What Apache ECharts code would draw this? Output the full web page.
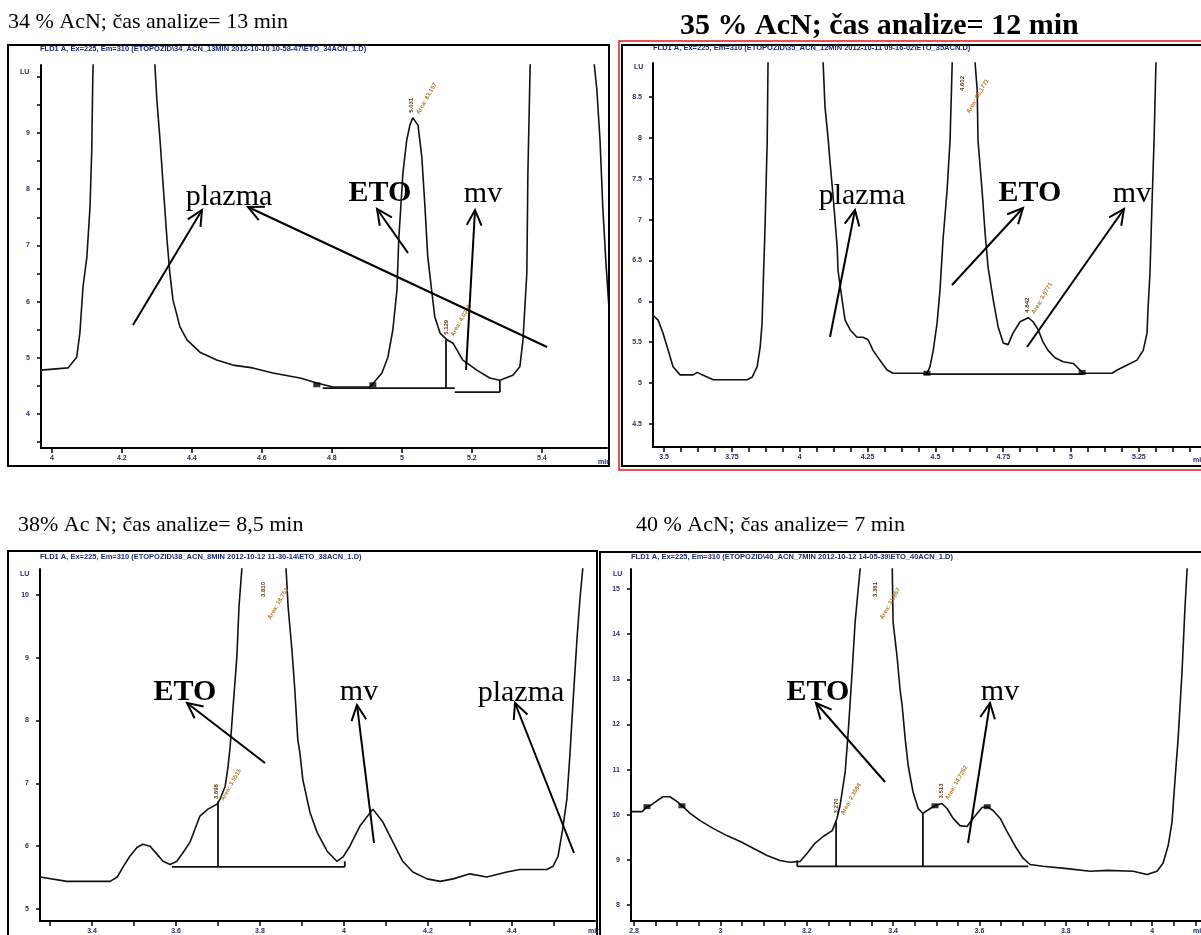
<!DOCTYPE html>
<html>
<head>
<meta charset="utf-8">
<script src="https://cdn.jsdelivr.net/npm/echarts@6/dist/echarts.min.js"></script>
<style>
html,body{margin:0;padding:0;background:#fff;}
#c{width:1201px;height:935px;}
</style>
</head>
<body>
<div id="c"></div>
<script>
// ---- chromatogram traces: retention time (min) and fluorescence response (LU) ----
const run34Time = [3.969,4.046,4.071,4.080,4.089,4.100,4.109,4.114,4.117,4.21,4.294,4.300,4.309,4.317,4.329,4.337,4.346,4.366,4.386,4.423,4.471,4.517,4.574,4.631,4.709,4.757,4.803,4.909,4.943,4.960,4.974,4.986,4.991,5.003,5.014,5.023,5.031,5.046,5.057,5.066,5.074,5.086,5.094,5.109,5.129,5.146,5.174,5.214,5.251,5.280,5.317,5.337,5.346,5.357,5.360,5.366,5.457,5.549,5.557,5.566,5.574,5.583,5.594];
const run34Signal = [4.78,4.82,5.01,5.44,6.26,6.79,7.68,8.70,10.0,30,10.26,9.59,8.88,8.16,7.10,6.51,6.03,5.55,5.32,5.10,4.96,4.87,4.82,4.73,4.64,4.55,4.48,4.48,4.73,5.01,5.49,6.21,7.10,8.29,8.88,9.14,9.27,9.14,8.57,7.68,6.79,6.15,5.73,5.44,5.32,5.26,4.96,4.78,4.64,4.60,4.69,4.84,5.32,6.51,8.29,10.07,30,10.26,9.77,8.88,7.68,6.69,5.67];

const run35Time = [3.459,3.478,3.496,3.515,3.533,3.559,3.607,3.622,3.640,3.681,3.806,3.824,3.843,3.854,3.861,3.865,3.872,3.880,3.883,3.983,4.086,4.093,4.104,4.112,4.123,4.138,4.141,4.156,4.167,4.186,4.211,4.233,4.252,4.270,4.304,4.322,4.344,4.407,4.469,4.480,4.492,4.506,4.517,4.528,4.543,4.554,4.562,4.602,4.646,4.654,4.657,4.672,4.683,4.694,4.713,4.731,4.750,4.768,4.786,4.812,4.842,4.860,4.879,4.897,4.915,4.941,4.971,5.008,5.033,5.044,5.107,5.151,5.170,5.207,5.243,5.266,5.280,5.284,5.291,5.298,5.306,5.313,5.40];
const run35Signal = [5.83,5.77,5.61,5.40,5.20,5.10,5.10,5.13,5.10,5.04,5.04,5.07,5.20,5.44,5.73,6.18,6.91,7.97,8.93,20,8.93,8.38,8.01,7.69,7.28,6.66,6.38,6.02,5.77,5.65,5.56,5.56,5.53,5.40,5.24,5.16,5.12,5.12,5.12,5.20,5.40,5.73,6.14,6.75,7.36,7.97,8.93,10.5,8.93,8.59,7.97,7.36,6.84,6.42,6.02,5.69,5.49,5.47,5.61,5.75,5.80,5.75,5.65,5.50,5.40,5.31,5.26,5.24,5.16,5.12,5.12,5.12,5.16,5.22,5.28,5.40,5.61,5.93,6.35,7.15,7.97,8.93,20];

const run38Time = [3.276,3.340,3.443,3.460,3.474,3.490,3.507,3.521,3.538,3.555,3.569,3.586,3.602,3.617,3.633,3.645,3.657,3.676,3.698,3.705,3.717,3.724,3.729,3.736,3.745,3.750,3.757,3.810,3.862,3.867,3.876,3.883,3.890,3.895,3.902,3.919,3.936,3.960,3.983,3.998,4.014,4.038,4.069,4.093,4.117,4.140,4.164,4.198,4.229,4.260,4.300,4.340,4.388,4.419,4.483,4.498,4.510,4.521,4.531,4.538,4.545,4.555,4.562,4.569,4.62];
const run38Signal = [5.51,5.44,5.44,5.51,5.67,5.84,5.98,6.03,6.00,5.87,5.76,5.71,5.76,5.90,6.06,6.27,6.48,6.59,6.67,6.75,6.95,7.27,7.59,8.22,9.02,9.81,10.43,25,10.43,9.81,9.13,8.49,7.70,7.49,7.06,6.54,6.22,5.92,5.76,5.83,6.00,6.32,6.59,6.38,6.06,5.76,5.59,5.48,5.44,5.48,5.56,5.51,5.59,5.63,5.63,5.68,5.84,6.27,6.75,7.43,8.22,9.29,9.92,10.43,25];

const run40Time = [2.793,2.819,2.830,2.837,2.853,2.867,2.883,2.900,2.911,2.930,2.953,2.983,3.015,3.046,3.076,3.108,3.138,3.161,3.185,3.201,3.219,3.238,3.259,3.270,3.277,3.289,3.296,3.305,3.312,3.319,3.324,3.361,3.398,3.400,3.409,3.416,3.421,3.428,3.435,3.446,3.458,3.469,3.486,3.497,3.513,3.525,3.539,3.555,3.571,3.585,3.606,3.618,3.632,3.648,3.664,3.683,3.701,3.717,3.747,3.803,3.856,3.896,3.956,3.988,4.011,4.025,4.037,4.046,4.053,4.060,4.069,4.076,4.081,4.15];
const run40Signal = [10.07,10.07,10.18,10.20,10.31,10.40,10.40,10.29,10.20,10.03,9.87,9.70,9.54,9.41,9.26,9.10,8.99,8.95,8.97,9.15,9.37,9.52,9.65,9.92,10.20,10.95,11.83,13.15,14.26,14.98,15.47,40,15.47,14.26,13.51,12.78,12.41,11.68,11.08,10.51,10.14,10.03,10.14,10.20,10.25,10.14,9.92,9.76,9.74,9.92,10.16,10.18,10.09,9.92,9.63,9.30,9.04,8.90,8.86,8.81,8.75,8.77,8.75,8.68,8.75,8.93,9.32,9.85,10.80,11.68,13.15,14.61,15.47,40];

// ---- integration baselines and peak drop lines [[t1,y1],[t2,y2]] ----
const base34 = [[[4.774,4.46],[5.151,4.46]], [[5.126,4.46],[5.126,5.32]], [[5.151,4.39],[5.280,4.39]], [[5.280,4.39],[5.280,4.60]]];
const base35 = [[[4.455,5.11],[5.044,5.11]]];
const base38 = [[[3.590,5.67],[4.002,5.67]], [[3.700,5.67],[3.700,6.71]], [[4.002,5.67],[4.002,5.76]]];
const base40 = [[[3.178,8.86],[3.713,8.86]], [[3.268,8.86],[3.268,9.85]], [[3.469,8.86],[3.469,10.03]], [[3.178,8.86],[3.178,8.99]]];

// ---- integration event markers ----
const marks34 = [[4.757,4.52],[4.917,4.52]];
const marks35 = [[4.469,5.12],[5.041,5.13]];
const marks38 = [];
const marks40 = [[2.830,10.18],[2.911,10.20],[3.497,10.20],[3.618,10.18]];

// ---- integrated peaks: retention time, apex response, area ----
const peaks34 = [{rt:5.031, y:9.27, area:'83.157'}, {rt:5.129, y:5.32, area:'4.0369'}];
const peaks35 = [{rt:4.602, y:10.5, area:'60.1771'}, {rt:4.842, y:5.80, area:'3.9771'}];
const peaks38 = [{rt:3.810, y:25, area:'18.751'}, {rt:3.698, y:6.67, area:'3.5515'}];
const peaks40 = [{rt:3.361, y:40, area:'31.867'}, {rt:3.270, y:9.92, area:'2.3594'}, {rt:3.513, y:10.25, area:'14.7262'}];

// ---- axis ticks ----
const xTicks34 = [4, 4.2, 4.4, 4.6, 4.8, 5, 5.2, 5.4];
const yTicks34 = [4, 5, 6, 7, 8, 9];
const xTicks35 = [3.5, 3.75, 4, 4.25, 4.5, 4.75, 5, 5.25];
const yTicks35 = [4.5, 5, 5.5, 6, 6.5, 7, 7.5, 8, 8.5];
const xTicks38 = [3.4, 3.6, 3.8, 4, 4.2, 4.4];
const yTicks38 = [5, 6, 7, 8, 9, 10];
const xTicks40 = [2.8, 3, 3.2, 3.4, 3.6, 3.8, 4];
const yTicks40 = [8, 9, 10, 11, 12, 13, 14, 15];

// ---- panel titles and detector headers ----
const titles = ['34 % AcN; čas analize= 13 min', '35 % AcN; čas analize= 12 min', '38% Ac N; čas analize= 8,5 min', '40 % AcN; čas analize= 7 min'];
const headers = [
  'FLD1 A, Ex=225, Em=310 (ETOPOZID\\34_ACN_13MIN 2012-10-10 10-58-47\\ETO_34ACN_1.D)',
  'FLD1 A, Ex=225, Em=310 (ETOPOZID\\35_ACN_12MIN 2012-10-11 09-16-02\\ETO_35ACN.D)',
  'FLD1 A, Ex=225, Em=310 (ETOPOZID\\38_ACN_8MIN 2012-10-12 11-30-14\\ETO_38ACN_1.D)',
  'FLD1 A, Ex=225, Em=310 (ETOPOZID\\40_ACN_7MIN 2012-10-12 14-05-39\\ETO_40ACN_1.D)'
];

function zip(t, s) { return t.map((x, i) => [x, s[i]]); }
function withMinor(ticks, n, lo, hi) {
  const step = ticks[1] - ticks[0];
  const out = [];
  for (let v = ticks[0] - step; v <= ticks[ticks.length - 1] + step + 1e-9; v += step) {
    for (let k = 0; k < n; k++) {
      const m = v + step * k / n;
      if (m >= lo - 1e-9 && m <= hi + 1e-9) out.push(+m.toFixed(5));
    }
  }
  return out;
}

const panels = [
  {grid:{left:41, top:65, width:566, height:383}, x:[3.969,5.586], y:[3.395,10.21],
   time:run34Time, signal:run34Signal, xTicks:xTicks34, yTicks:yTicks34, xMinor:1, yMinor:2,
   base:base34, marks:marks34, peaks:peaks34},
  {grid:{left:653, top:63, width:548, height:384}, x:[3.459,5.479], y:[4.217,8.917],
   time:run35Time, signal:run35Signal, xTicks:xTicks35, yTicks:yTicks35, xMinor:4, yMinor:1,
   base:base35, marks:marks35, peaks:peaks35},
  {grid:{left:40, top:569, width:555, height:353}, x:[3.276,4.598], y:[4.81,10.41],
   time:run38Time, signal:run38Signal, xTicks:xTicks38, yTicks:yTicks38, xMinor:2, yMinor:1,
   base:base38, marks:marks38, peaks:peaks38},
  {grid:{left:631, top:569, width:570, height:354}, x:[2.793,4.113], y:[7.65,15.44],
   time:run40Time, signal:run40Signal, xTicks:xTicks40, yTicks:yTicks40, xMinor:4, yMinor:1,
   base:base40, marks:marks40, peaks:peaks40}
];

const tickLabel = {fontSize:7, fontWeight:'bold', color:'#2a3060', fontFamily:'Liberation Sans'};

const option = {animation:false, grid:[], xAxis:[], yAxis:[], series:[]};
panels.forEach((p, i) => {
  option.grid.push(Object.assign({containLabel:false}, p.grid));
  option.xAxis.push({
    type:'value', gridIndex:i, min:p.x[0], max:p.x[1],
    axisLine:{onZero:false, lineStyle:{color:'#000', width:2}},
    axisTick:{customValues:withMinor(p.xTicks, p.xMinor, p.x[0], p.x[1]), length:5, lineStyle:{color:'#000', width:1.5}},
    axisLabel:Object.assign({customValues:p.xTicks, margin:7}, tickLabel),
    splitLine:{show:false}
  });
  option.yAxis.push({
    type:'value', gridIndex:i, min:p.y[0], max:p.y[1],
    axisLine:{onZero:false, lineStyle:{color:'#000', width:2}},
    axisTick:{customValues:withMinor(p.yTicks, p.yMinor, p.y[0], p.y[1]), length:4, lineStyle:{color:'#000', width:1.5}},
    axisLabel:Object.assign({customValues:p.yTicks, margin:11}, tickLabel),
    splitLine:{show:false}
  });
  option.series.push({
    type:'line', xAxisIndex:i, yAxisIndex:i, data:zip(p.time, p.signal),
    symbol:'none', clip:true, silent:true, z:3,
    lineStyle:{color:'#111', width:1.6}
  });
  p.base.forEach(seg => option.series.push({
    type:'line', xAxisIndex:i, yAxisIndex:i, data:seg, symbol:'none', clip:true, silent:true, z:4,
    lineStyle:{color:'#111', width:1.8}
  }));
  if (p.marks.length) option.series.push({
    type:'scatter', xAxisIndex:i, yAxisIndex:i, data:p.marks, symbol:'rect', symbolSize:[7,5],
    itemStyle:{color:'#000'}, silent:true, z:5
  });
});

const chart = echarts.init(document.getElementById('c'), null, {renderer:'canvas', width:1201, height:935});
chart.setOption(option);

// ---- overlay: frames, titles, annotation arrows and peak labels ----
const serif = '"Liberation Serif", "Times New Roman", serif';
const g = [];
function rect(x, y, w, h, stroke, lw) {
  g.push({type:'rect', shape:{x, y, width:w, height:h}, style:{fill:null, stroke, lineWidth:lw}, z:10});
}
function text(str, x, y, font, opts) {
  g.push({type:'text', x, y, z:11, rotation:(opts && opts.rot) || 0,
    style:Object.assign({text:str, font, fill:'#000', align:'left', verticalAlign:'middle'}, (opts && opts.style) || {})});
}
function arrow(x1, y1, x2, y2) {
  const a = Math.atan2(y2 - y1, x2 - x1), L = 17, w = 0.45;
  const h1 = [x2 - L * Math.cos(a - w), y2 - L * Math.sin(a - w)];
  const h2 = [x2 - L * Math.cos(a + w), y2 - L * Math.sin(a + w)];
  g.push({type:'line', shape:{x1, y1, x2, y2}, style:{stroke:'#000', lineWidth:2}, z:12});
  g.push({type:'polyline', shape:{points:[h1, [x2, y2], h2]}, style:{stroke:'#000', lineWidth:2, fill:null}, z:12});
}

// panel frames
rect(8, 45, 601, 421, '#000', 2);
rect(619, 41, 590, 429, '#e01818', 1.5);
rect(622, 45, 590, 421, '#000', 2);
rect(8, 551, 589, 400, '#000', 2);
rect(600, 552, 610, 400, '#000', 2);

// titles
text(titles[0], 8, 22, '22px ' + serif);
text(titles[1], 680, 26, 'bold 30px ' + serif);
text(titles[2], 18, 525, '22px ' + serif);
text(titles[3], 636, 525, '22px ' + serif);

// detector headers, axis units
const hdrStyle = {style:{fill:'#1c2a70'}};
[[40, 49], [653, 48], [40, 557], [631, 557]].forEach((pos, i) => text(headers[i], pos[0], pos[1], 'bold 7.5px "Liberation Sans"', hdrStyle));
[[20, 72], [634, 67], [20, 574], [613, 574]].forEach(pos => text('LU', pos[0], pos[1], 'bold 7px "Liberation Sans"', hdrStyle));
[[598, 462], [1193, 460], [588, 931], [1193, 931]].forEach(pos => text('min', pos[0], pos[1], 'bold 7px "Liberation Sans"', hdrStyle));

// annotations
const lab = '30px ' + serif, labB = 'bold 30px ' + serif;
const ctr = {style:{align:'center'}};
text('plazma', 229, 197, lab, ctr); text('ETO', 380, 193, labB, ctr); text('mv', 483, 194, lab, ctr);
arrow(133, 325, 202, 210); arrow(547, 347, 248, 207); arrow(408, 253, 377, 209); arrow(466, 370, 475, 210);
text('plazma', 862, 196, lab, ctr); text('ETO', 1030, 193, labB, ctr); text('mv', 1132, 194, lab, ctr);
arrow(830, 337, 855, 210); arrow(952, 285, 1023, 208); arrow(1027, 347, 1124, 209);
text('ETO', 185, 692, labB, ctr); text('mv', 359, 692, lab, ctr); text('plazma', 521, 693, lab, ctr);
arrow(265, 763, 187, 703); arrow(374, 843, 357, 705); arrow(574, 853, 515, 703);
text('ETO', 818, 692, labB, ctr); text('mv', 1000, 692, lab, ctr);
arrow(885, 782, 816, 703); arrow(968, 843, 990, 703);

// peak retention time / area labels placed on the trace
const pkFont = 'bold 6px "Liberation Sans"';
panels.forEach((p, i) => {
  p.peaks.forEach(pk => {
    const clipped = pk.y > p.y[1];
    const pt = chart.convertToPixel({gridIndex:i}, [pk.rt, Math.min(pk.y, p.y[1])]);
    const top = p.grid.top;
    const rtY = clipped ? top + 28 : pt[1] - 5;
    const arY = clipped ? top + 50 : pt[1] - 4;
    text(pk.rt.toFixed(3), pt[0] - 1, rtY, pkFont, {rot:Math.PI / 2, style:{fill:'#5a3a10'}});
    text('Area: ' + pk.area, pt[0] + 5, arY, pkFont, {rot:Math.PI / 3, style:{fill:'#b07a2a'}});
  });
});

chart.setOption({graphic:{elements:g}});
</script>
</body>
</html>
